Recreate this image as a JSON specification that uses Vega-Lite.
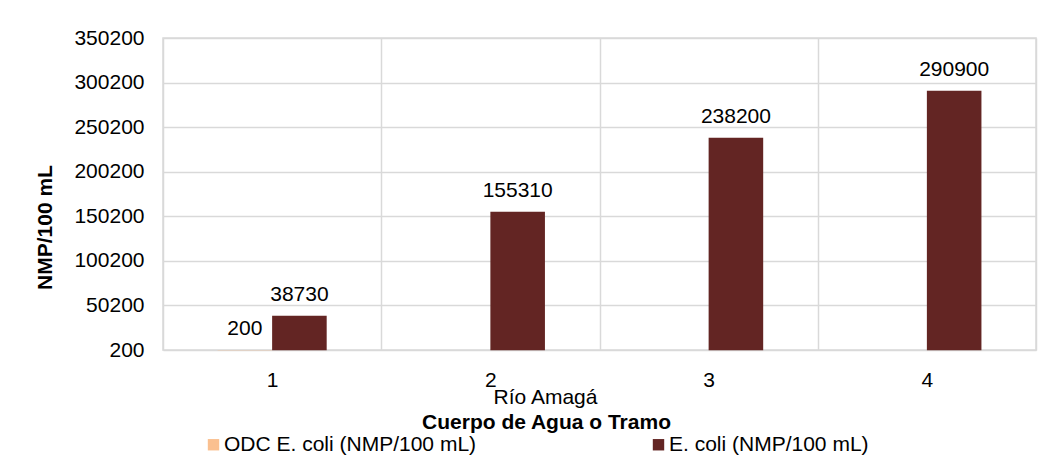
{
  "$schema": "https://vega.github.io/schema/vega-lite/v6.json",
  "width": 873,
  "height": 312,
  "autosize": {"type": "none"},
  "padding": {"left": 163, "top": 38, "right": 17, "bottom": 106},
  "background": "white",
  "config": {
    "font": "Liberation Sans",
    "view": {"stroke": "#d9d9d9", "strokeWidth": 1.5},
    "axis": {"labelColor": "#000", "titleColor": "#000", "labelFont": "Liberation Sans", "titleFont": "Liberation Sans"},
    "legend": {"labelColor": "#000", "labelFont": "Liberation Sans"}
  },
  "data": {
    "values": [
      {"tramo": "1", "serie": "ODC E. coli (NMP/100 mL)", "valor": 200},
      {"tramo": "1", "serie": "E. coli (NMP/100 mL)", "valor": 38730},
      {"tramo": "2", "serie": "E. coli (NMP/100 mL)", "valor": 155310},
      {"tramo": "3", "serie": "E. coli (NMP/100 mL)", "valor": 238200},
      {"tramo": "4", "serie": "E. coli (NMP/100 mL)", "valor": 290900}
    ]
  },
  "title": {
    "text": "Cuerpo de Agua o Tramo",
    "orient": "bottom",
    "anchor": "middle",
    "dx": -53,
    "offset": -43,
    "fontSize": 21,
    "fontWeight": "bold",
    "color": "#000",
    "font": "Liberation Sans"
  },
  "encoding": {
    "x": {
      "field": "tramo",
      "type": "nominal",
      "scale": {"paddingInner": 0, "paddingOuter": 0},
      "axis": {
        "title": "Río Amagá",
        "labelAngle": 0,
        "tickBand": "extent",
        "grid": true,
        "gridColor": "#d9d9d9",
        "gridWidth": 1.5,
        "ticks": false,
        "tickSize": 0,
        "domain": false,
        "labelPadding": 19,
        "labelFontSize": 21,
        "titleFontSize": 21,
        "titleFontWeight": "normal",
        "titleX": 382,
        "titleY": 47,
        "titleBaseline": "middle",
        "titleAnchor": null
      }
    },
    "xOffset": {
      "field": "serie",
      "type": "nominal",
      "scale": {"domain": ["ODC E. coli (NMP/100 mL)", "E. coli (NMP/100 mL)"], "paddingInner": 0, "paddingOuter": 1.1}
    },
    "y": {
      "field": "valor",
      "type": "quantitative",
      "scale": {"domain": [200, 350200], "zero": false, "nice": false},
      "axis": {
        "values": [200, 50200, 100200, 150200, 200200, 250200, 300200, 350200],
        "format": "d",
        "title": "NMP/100 mL",
        "grid": true,
        "gridColor": "#d9d9d9",
        "gridWidth": 1.5,
        "ticks": false,
        "tickSize": 0,
        "domain": false,
        "labelPadding": 19,
        "labelFontSize": 21,
        "titleFontSize": 21,
        "titleFontWeight": "bold",
        "titleX": -118,
        "titleY": 189,
        "titleAngle": 270,
        "titleBaseline": "middle",
        "titleAlign": "center"
      }
    }
  },
  "layer": [
    {
      "mark": {"type": "bar"},
      "encoding": {
        "color": {
          "field": "serie",
          "type": "nominal",
          "scale": {"domain": ["ODC E. coli (NMP/100 mL)", "E. coli (NMP/100 mL)"], "range": ["#FAC090", "#632523"]},
          "legend": {
            "orient": "none",
            "legendX": 40,
            "legendY": 396,
            "direction": "horizontal",
            "title": null,
            "symbolType": "square",
            "symbolSize": 130,
            "symbolStrokeWidth": 0,
            "labelFontSize": 21,
            "labelOffset": 0,
            "labelLimit": 0,
            "columnPadding": 171
          }
        }
      }
    },
    {
      "mark": {"type": "text", "baseline": "alphabetic", "dy": -15, "fontSize": 21, "color": "#000"},
      "encoding": {
        "text": {"field": "valor", "type": "quantitative", "format": "d"}
      }
    }
  ]
}
